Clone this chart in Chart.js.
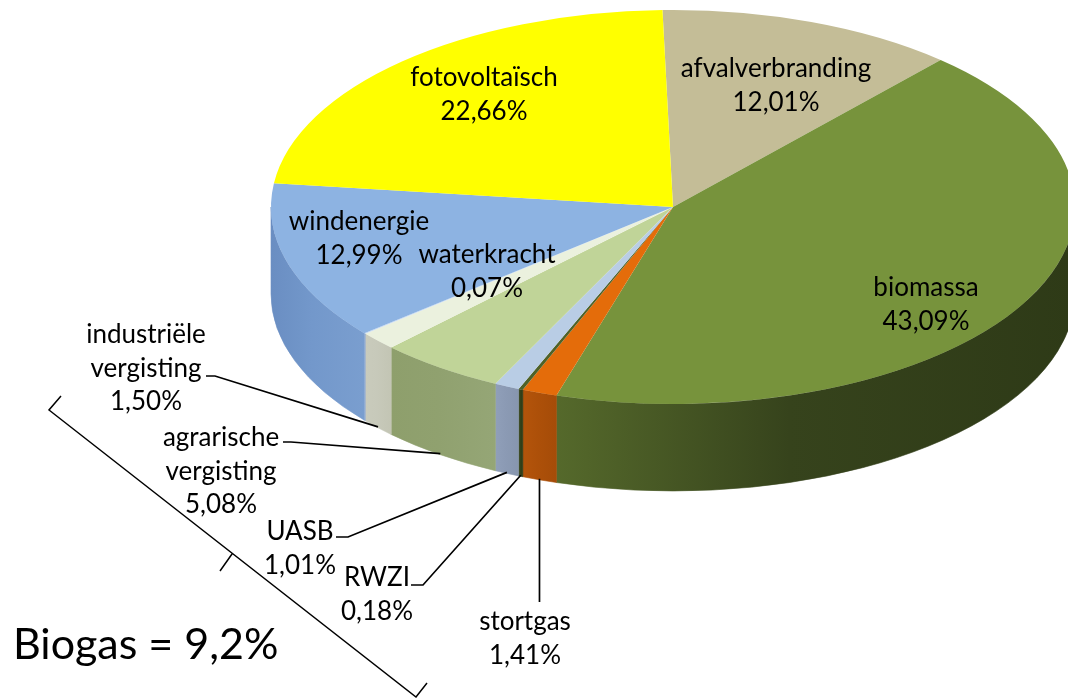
<!DOCTYPE html>
<html><head><meta charset="utf-8">
<script src="https://cdn.jsdelivr.net/npm/chart.js@4/dist/chart.umd.min.js"></script>
<style>html,body{margin:0;padding:0;background:#fff;}#wrap{position:relative;width:1068px;height:698px;}</style>
</head><body><div id="wrap"><canvas id="c" width="1068" height="698"></canvas></div>
<script>
// ---- data ----
const categories = ['afvalverbranding','biomassa','stortgas','RWZI','UASB','agrarische vergisting','industriële vergisting','waterkracht','windenergie','fotovoltaïsch'];
const shares = [12.01, 43.09, 1.41, 0.18, 1.01, 5.08, 1.50, 0.07, 12.99, 22.66];
const biogasText = 'Biogas = 9,2%';

// ---- styles ----
const topColors  = ['#c4bd97','#77933c','#e46c0a','#4f6228','#b9cde5','#c0d498','#ebf1de','#c6d9f1','#8db3e2','#ffff00'];
const wallLight  = ['#a09a7a','#55692b','#b4540b','#3b4a1c','#909fb9','#8e9f6c','#c9cbbc','#a9bcd4','#6a8ec2','#d4d400'];
const wallMid    = ['#948e70','#36431c','#ad5009','#34421a','#8b9ab4','#90a16f','#c7c9ba','#a2b6cf','#7398cb','#caca00'];
const wallDark   = ['#8a8468','#2e3a17','#a54c08','#2e3a15','#8796ae','#95a676','#c3c5b4','#9aaecb','#7a9ecf','#c0c000'];
const FONT = 'Lato, Carlito, Calibri, sans-serif';
const LABEL_PX = 26, LINE_H = 33.5;
const SY = 0.49, DEPTH = 87;

// label layout (center x, center y of first line) and leader elbows
const inside = {
  'afvalverbranding': [776, 69],
  'biomassa': [926, 288],
  'windenergie': [359, 222],
  'waterkracht': [487, 255],
  'fotovoltaïsch': [484, 78]
};
const outside = {
  'industriële vergisting': {pos:[146, 335], elbow:[[206,376],[215,376]]},
  'agrarische vergisting': {pos:[221, 438], elbow:[[283,442],[291,442]]},
  'UASB': {pos:[300, 532], elbow:[[336,537],[348,537]]},
  'RWZI': {pos:[377, 578], elbow:[[411,585],[423,585]]},
  'stortgas': {pos:[525, 622], elbow:[[null,602]]}
};

const pct = v => v.toFixed(2).replace('.', ',') + '%';
const labelLines = i => categories[i].split(' ').concat([pct(shares[i])]);

function geom(chart){
  const meta = chart.getDatasetMeta(0);
  const p = meta.data[0].getProps(['x','y','outerRadius'], true);
  return {meta, cx:p.x, cy:p.y, r:p.outerRadius};
}

const tilt = {
  id:'tilt',
  beforeDatasetsDraw(chart){
    const {meta, cx, cy, r} = geom(chart);
    const ctx = chart.ctx;
    ctx.save();
    meta.data.forEach((arc, i) => {
      const a1 = Math.max(arc.startAngle, 0), a2 = Math.min(arc.endAngle, Math.PI);
      if (a2 <= a1) return;
      const ry = r*SY;
      const xL = cx + r*Math.cos(a2), xR = cx + r*Math.cos(a1);
      const g = ctx.createLinearGradient(xL, 0, Math.max(xR, xL+1), 0);
      g.addColorStop(0, wallLight[i]); g.addColorStop(0.45, wallMid[i]); g.addColorStop(1, wallDark[i]);
      ctx.beginPath();
      ctx.ellipse(cx, cy, r, ry, 0, a1, a2, false);
      ctx.lineTo(cx + r*Math.cos(a2), cy + DEPTH + ry*Math.sin(a2));
      ctx.ellipse(cx, cy + DEPTH, r, ry, 0, a2, a1, true);
      ctx.closePath();
      ctx.fillStyle = g; ctx.fill();
      ctx.strokeStyle = g; ctx.lineWidth = 0.6; ctx.stroke();
    });
    ctx.restore();
    ctx.save();
    ctx.translate(0, cy); ctx.scale(1, SY); ctx.translate(0, -cy);
  },
  afterDatasetsDraw(chart){
    chart.ctx.restore();
  },
  afterDraw(chart){
    const {meta, cx, cy, r} = geom(chart);
    const ctx = chart.ctx;
    ctx.save();
    ctx.fillStyle = '#000';
    ctx.textAlign = 'center';
    ctx.textBaseline = 'middle';
    ctx.font = LABEL_PX + 'px ' + FONT;
    categories.forEach((name, i) => {
      const lines = inside[name] ? [name, pct(shares[i])] : labelLines(i);
      if (inside[name]) {
        const [x, y] = inside[name];
        lines.forEach((t, k) => ctx.fillText(t, x, y + k*LINE_H));
      } else if (outside[name]) {
        const o = outside[name];
        lines.forEach((t, k) => ctx.fillText(t, o.pos[0], o.pos[1] + k*LINE_H));
        const arc = meta.data[i];
        const mid = (arc.startAngle + arc.endAngle)/2;
        const wx = cx + r*Math.cos(mid), wy = cy + DEPTH + r*SY*Math.sin(mid) - 1;
        ctx.beginPath();
        ctx.strokeStyle = '#000'; ctx.lineWidth = 1.7;
        o.elbow.forEach((pt, k) => {
          const px = pt[0] === null ? wx : pt[0];
          if (k === 0) ctx.moveTo(px, pt[1]); else ctx.lineTo(px, pt[1]);
        });
        ctx.lineTo(wx, wy);
        ctx.stroke();
      }
    });
    // brace
    ctx.beginPath();
    ctx.strokeStyle = '#000'; ctx.lineWidth = 1.5;
    ctx.moveTo(61, 396); ctx.lineTo(49, 410); ctx.lineTo(416, 697); ctx.lineTo(427, 683);
    ctx.moveTo(232, 554); ctx.lineTo(220, 571);
    ctx.stroke();
    ctx.textAlign = 'left';
    ctx.font = '43px ' + FONT;
    ctx.fillText(biogasText, 13, 645);
    ctx.restore();
  }
};

new Chart(document.getElementById('c'), {
  type:'pie',
  data:{labels:categories, datasets:[{data:shares, backgroundColor:topColors, borderWidth:0, hoverOffset:0, clip:false}]},
  options:{
    responsive:false, animation:false, events:[],
    rotation:-1.5, radius:402,
    layout:{padding:{left:278, right:0, top:0, bottom:284}},
    plugins:{legend:{display:false}, tooltip:{enabled:false}}
  },
  plugins:[tilt]
});
</script></body></html>
